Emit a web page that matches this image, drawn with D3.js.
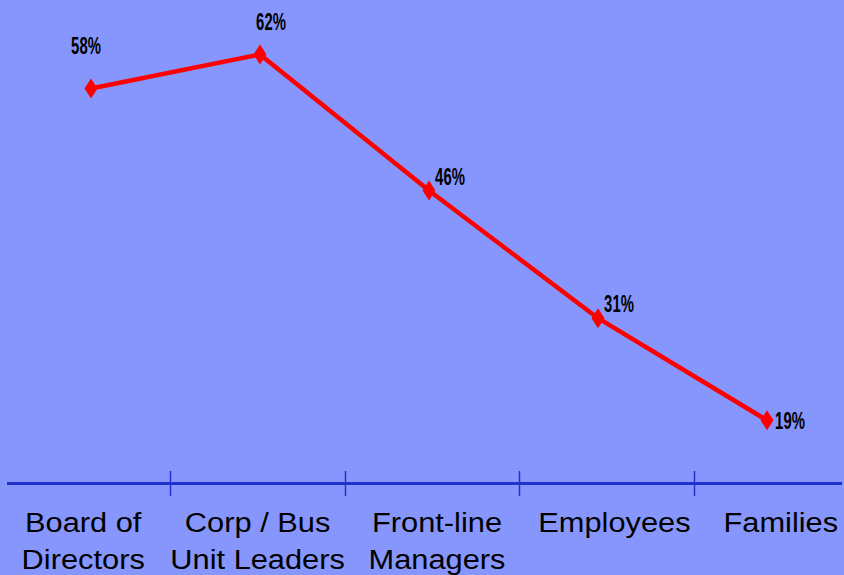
<!DOCTYPE html>
<html>
<head>
<meta charset="utf-8">
<script src="https://cdn.jsdelivr.net/npm/d3@7"></script>
<style>
  html, body { margin: 0; padding: 0; background: #8696fc; }
  svg { display: block; }
  .value-label { font-family: "Liberation Sans", Arial, sans-serif; font-weight: bold; font-size: 24px; fill: #000; }
  .cat-label { font-family: "Liberation Sans", Arial, sans-serif; font-size: 28px; fill: #000; }
</style>
</head>
<body>
<svg id="chart" width="844" height="575"></svg>
<script>
// Data
const categories = ['Board of Directors', 'Corp / Bus Unit Leaders', 'Front-line Managers', 'Employees', 'Families'];
const categoryLines = [['Board of', 'Directors'], ['Corp / Bus', 'Unit Leaders'], ['Front-line', 'Managers'], ['Employees'], ['Families']];
const values = [58, 62, 46, 31, 19];

// Label placement (style only)
const labelOffsets = [[-5, -34], [11, -24], [21, -6], [21, -6], [23, 9]];
const categoryNudge = [0, 0, 5, 8, 0];

const width = 844;
const height = 575;
const svg = d3.select('#chart');

svg.append('rect')
    .attr('width', width)
    .attr('height', height)
    .attr('fill', '#8696fc');

// Scales
const x = d3.scalePoint()
    .domain(categories)
    .range([91, 767]);

const y = d3.scaleLinear()
    .domain([0, 100])
    .range([582, -269]);

// Band scale for the category axis / labels row
const xBand = d3.scaleBand()
    .domain(categories)
    .range([-4, 868]);

// Axis
const axisY = 483.5;
const axisG = svg.append('g').attr('class', 'x-axis');

axisG.append('line')
    .attr('x1', 7)
    .attr('x2', 842)
    .attr('y1', axisY)
    .attr('y2', axisY)
    .attr('stroke', '#1f33cc')
    .attr('stroke-width', 3);

axisG.selectAll('line.tick')
    .data(categories.slice(1))
    .enter()
    .append('line')
    .attr('class', 'tick')
    .attr('x1', (d) => Math.round(xBand(d)) + 0.5)
    .attr('x2', (d) => Math.round(xBand(d)) + 0.5)
    .attr('y1', 471)
    .attr('y2', 496)
    .attr('stroke', '#1f33cc')
    .attr('stroke-width', 1.5);

// Category labels
const catG = svg.append('g').attr('class', 'cat-labels');
catG.selectAll('text')
    .data(categories)
    .enter()
    .append('text')
    .attr('class', 'cat-label')
    .attr('text-anchor', 'middle')
    .attr('transform', (d, i) => `translate(${xBand(d) + xBand.bandwidth() / 2 + categoryNudge[i]}, 532) scale(1.1, 1)`)
    .each(function (d, i) {
        const t = d3.select(this);
        categoryLines[i].forEach((line, j) => {
            t.append('tspan')
                .attr('x', 0)
                .attr('dy', j === 0 ? 0 : 37.5)
                .text(line);
        });
    });

// Line
const points = categories.map((c, i) => ({ name: c, value: values[i] }));

const line = d3.line()
    .x((d) => x(d.name))
    .y((d) => y(d.value));

svg.append('path')
    .datum(points)
    .attr('d', line)
    .attr('fill', 'none')
    .attr('stroke', '#ff0000')
    .attr('stroke-width', 4.5)
    .attr('stroke-linejoin', 'round');

// Diamond markers
svg.selectAll('path.marker')
    .data(points)
    .enter()
    .append('path')
    .attr('class', 'marker')
    .attr('transform', (d) => `translate(${x(d.name)}, ${y(d.value)})`)
    .attr('d', 'M0,-10L6.5,0L0,10L-6.5,0Z')
    .attr('fill', '#ff0000');

// Value labels (condensed bold)
svg.selectAll('text.value-label')
    .data(points)
    .enter()
    .append('text')
    .attr('class', 'value-label')
    .attr('text-anchor', 'middle')
    .attr('transform', (d, i) => `translate(${x(d.name) + labelOffsets[i][0]}, ${y(d.value) + labelOffsets[i][1]}) scale(0.62, 1)`)
    .text((d) => d.value + '%');
</script>
</body>
</html>
